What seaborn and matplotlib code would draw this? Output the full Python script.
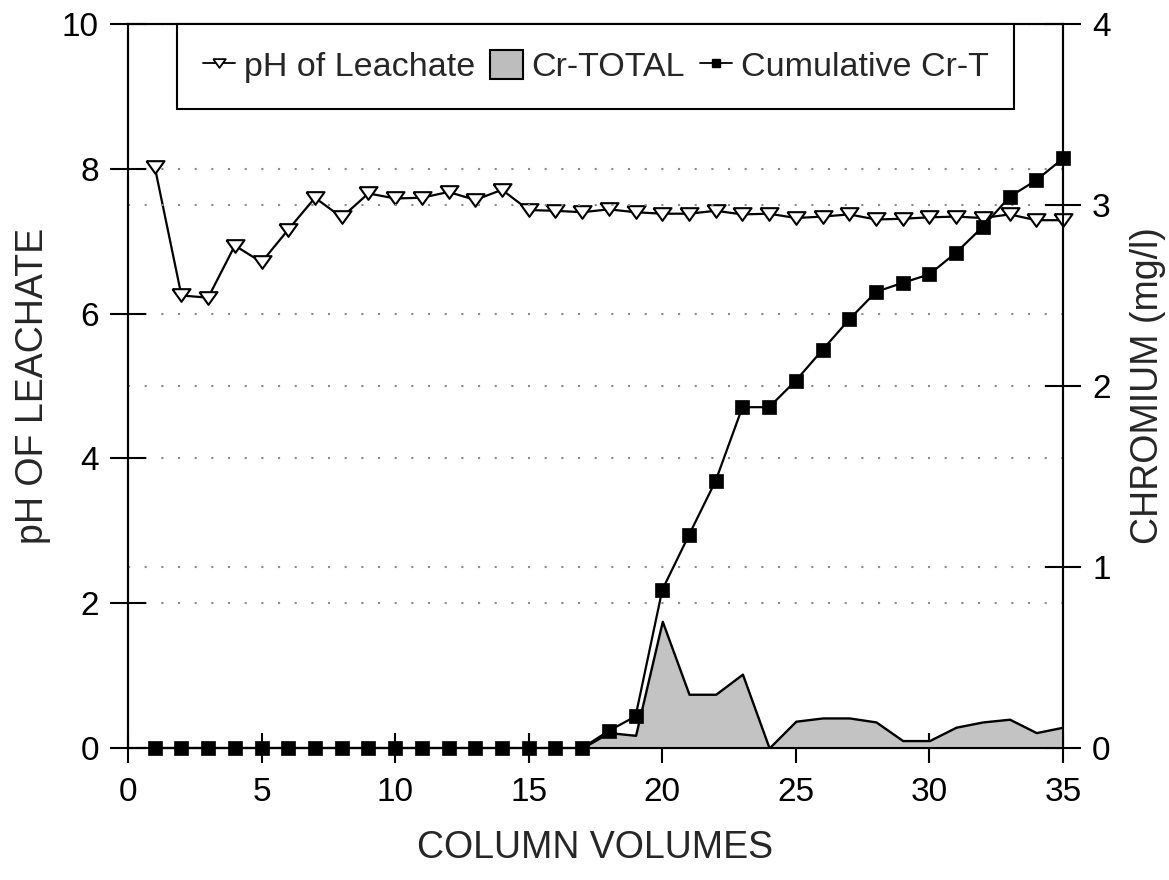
import numpy as np
import pandas as pd
import matplotlib
matplotlib.use("Agg")
import matplotlib.pyplot as plt
from matplotlib.lines import Line2D
from matplotlib.patches import Patch
import seaborn as sns

# ---- data ----
column_volumes = list(range(1, 36))
ph_leachate = [8.03, 6.25, 6.22, 6.94, 6.71, 7.16, 7.60, 7.33, 7.66, 7.59,
               7.60, 7.68, 7.57, 7.71, 7.43, 7.42, 7.40, 7.44, 7.40, 7.38,
               7.38, 7.42, 7.37, 7.38, 7.32, 7.34, 7.37, 7.30, 7.31, 7.33,
               7.34, 7.32, 7.37, 7.29, 7.29]
cr_total = [0, 0, 0, 0, 0, 0, 0, 0, 0, 0, 0, 0, 0, 0, 0, 0, 0,
            0.085, 0.07, 0.70, 0.297, 0.297, 0.408, 0.0, 0.148, 0.166,
            0.166, 0.144, 0.041, 0.041, 0.115, 0.144, 0.159, 0.085, 0.115]
cumulative_cr = [0, 0, 0, 0, 0, 0, 0, 0, 0, 0, 0, 0, 0, 0, 0, 0, 0,
                 0.095, 0.175, 0.874, 1.177, 1.477, 1.883, 1.883, 2.03, 2.20,
                 2.368, 2.52, 2.57, 2.617, 2.737, 2.88, 3.045, 3.137, 3.257]
x_ticks = [0, 5, 10, 15, 20, 25, 30, 35]
ph_ticks = [0, 2, 4, 6, 8, 10]
cr_ticks = [0, 1, 2, 3, 4]
legend_labels = ["pH of Leachate", "Cr-TOTAL", "Cumulative Cr-T"]

df = pd.DataFrame({"cv": column_volumes, "ph": ph_leachate,
                   "cr": cr_total, "cum": cumulative_cr})

sns.set_style("ticks")
plt.rcParams["font.family"] = ["Liberation Sans", "DejaVu Sans"]

fig = plt.figure(figsize=(11.69, 8.8), dpi=100)
fig.subplots_adjust(left=128 / 1169, right=1063 / 1169,
                    bottom=1 - 748 / 880, top=1 - 24 / 880)
ax = fig.add_subplot(111)
ax2 = ax.twinx()

tri = [(-1, 0.7), (1, 0.7), (0, -0.7), (-1, 0.7)]
grid_kw = dict(color="#8a8a8a", linestyle=(0, (1, 7)), linewidth=1.5)

# area of Cr-TOTAL on right axis
ax2.fill_between(df["cv"], 0, df["cr"], facecolor="#c3c3c3",
                 edgecolor="black", linewidth=1.7, zorder=2)
# cumulative Cr
sns.lineplot(data=df, x="cv", y="cum", ax=ax2, color="black", linewidth=1.6,
             marker="s", markersize=9.5, markerfacecolor="black",
             markeredgecolor="black", markeredgewidth=0.5,
             errorbar=None, legend=False, zorder=4, clip_on=False)
# pH line on left axis
sns.lineplot(data=df, x="cv", y="ph", ax=ax, color="black", linewidth=1.6,
             marker=tri, markersize=13, markerfacecolor="white",
             markeredgecolor="black", markeredgewidth=1.5,
             errorbar=None, legend=False, zorder=3, clip_on=False)

ax.set_xlim(0, 35)
ax.set_ylim(0, 10)
ax2.set_ylim(0, 4)
ax.set_xticks(x_ticks)
ax.set_yticks(ph_ticks)
ax2.set_yticks(cr_ticks)

ax.yaxis.grid(True, **grid_kw)
ax2.yaxis.grid(True, **grid_kw)
ax.xaxis.grid(False)
ax2.xaxis.grid(False)
ax.set_axisbelow(True)

for a in (ax, ax2):
    for s in a.spines.values():
        s.set_visible(True)
        s.set_linewidth(1.5)
        s.set_color("black")

ax.tick_params(axis="y", direction="inout", length=26, width=1.5,
               labelsize=24, pad=8, colors="black")
ax.tick_params(axis="x", direction="inout", length=22, width=1.5,
               labelsize=24, pad=10, colors="black")
ax2.tick_params(axis="y", direction="inout", length=26, width=1.5,
                labelsize=24, pad=8, colors="black")

ax.set_xlabel("COLUMN VOLUMES", fontsize=27, labelpad=16)
ax.set_ylabel("pH OF LEACHATE", fontsize=27, labelpad=8)
ax2.set_ylabel("CHROMIUM (mg/l)", fontsize=27, labelpad=14)

handles = [
    Line2D([0], [0], color="black", linewidth=1.3, marker=tri, markersize=9,
           markerfacecolor="white", markeredgecolor="black", markeredgewidth=1.3),
    Patch(facecolor="#bdbdbd", edgecolor="black", linewidth=1.5),
    Line2D([0], [0], color="black", linewidth=1.3, marker="s", markersize=6,
           markerfacecolor="black", markeredgecolor="black"),
]
leg = ax2.legend(handles, legend_labels, loc="upper left",
                 bbox_to_anchor=(49 / 935, 1.0), borderaxespad=0, ncol=3,
                 fontsize=24.5, frameon=True, fancybox=False, framealpha=1,
                 edgecolor="black", borderpad=0.76, handlelength=0.95,
                 handleheight=0.95, handletextpad=0.25, columnspacing=0.45)
leg.get_frame().set_linewidth(1.5)
leg.set_zorder(10)

fig.savefig("out.png", dpi=100)
